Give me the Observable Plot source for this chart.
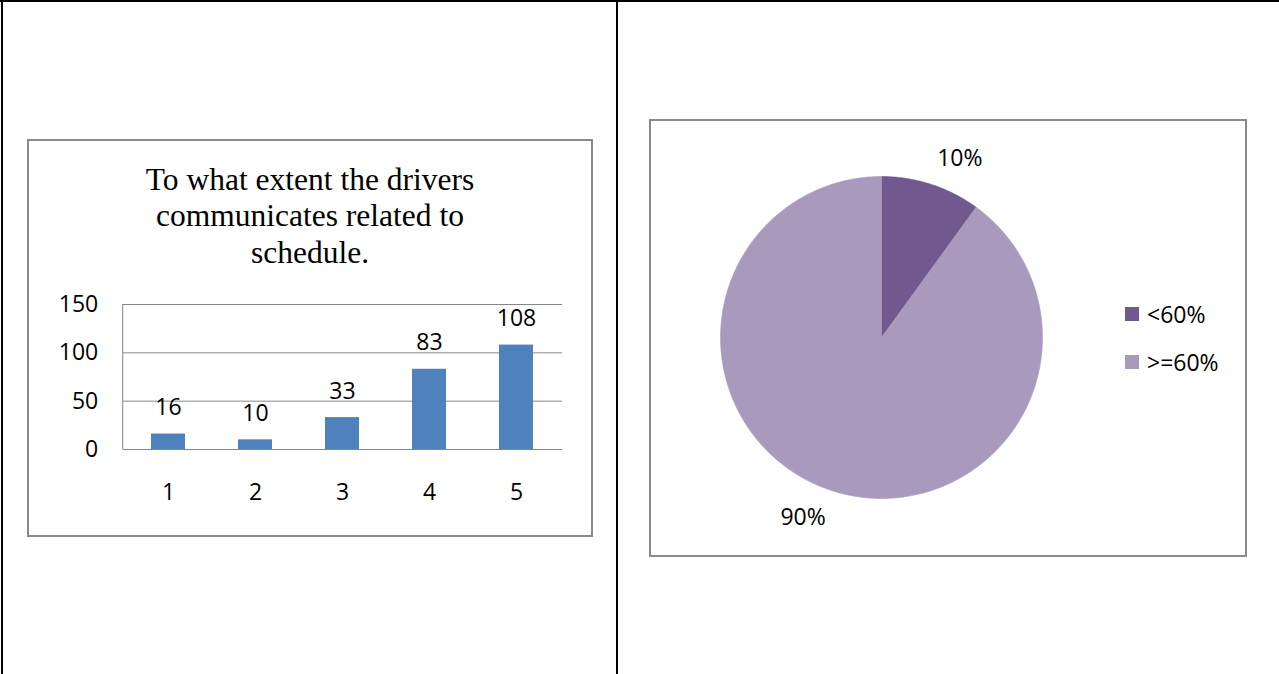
<!DOCTYPE html>
<html>
<head>
<meta charset="utf-8">
<script src="https://cdn.jsdelivr.net/npm/d3@7"></script>
<script src="https://cdn.jsdelivr.net/npm/@observablehq/plot@0.6"></script>
<style>
  html, body { margin: 0; padding: 0; background: #fff; }
  body { width: 1279px; height: 674px; position: relative; overflow: hidden; }
  .abs { position: absolute; box-sizing: border-box; }
  .line { background: #000; }
  .box { border: 2px solid #8a8a8a; background: #fff; }
  #title { font-family: "Liberation Serif", "Times New Roman", serif; font-size: 31.5px; line-height: 36.4px; text-align: center; color: #000; }
  #legend { font-family: "Open Sans", sans-serif; font-size: 23px; color: #000; }
  #legend .item { display: flex; align-items: center; height: 24px; line-height: 24px; margin-bottom: 24px; }
  #legend .sw { width: 14px; height: 14px; margin-right: 8px; flex: none; }
</style>
</head>
<body>
<div class="abs line" style="left:0;top:0;width:1279px;height:2px"></div>
<div class="abs line" style="left:1px;top:0;width:2px;height:674px"></div>
<div class="abs line" style="left:616px;top:0;width:2px;height:674px"></div>
<div class="abs box" style="left:27px;top:139px;width:566px;height:398px"></div>
<div class="abs box" style="left:649px;top:119px;width:598px;height:438px"></div>
<div id="title" class="abs" style="left:29px;top:161.7px;width:562px"></div>
<div id="bar" class="abs" style="left:28px;top:280px"></div>
<div id="pie" class="abs" style="left:651px;top:121px"></div>
<div id="legend" class="abs" style="left:1125px;top:302px"></div>
<script>
// ---- data ----
const titleLines = ["To what extent the drivers", "communicates related to", "schedule."];
const barCategories = ["1", "2", "3", "4", "5"];
const barValues = [16, 10, 33, 83, 108];
const yTicks = [0, 50, 100, 150];

const pieCategories = ["<60%", ">=60%"];
const pieValues = [10, 90];
const pieColors = ["#71598E", "#A99ABD"];

// ---- title ----
document.getElementById("title").innerHTML = titleLines.join("<br>");

// ---- bar chart ----
const barData = barCategories.map((c, i) => ({category: c, value: barValues[i]}));
const gridColor = "#868686";

const yAxisLine = (index, scales, values, dims) => {
  const x = dims.marginLeft;
  return d3.create("svg:line")
    .attr("x1", x).attr("x2", x)
    .attr("y1", scales.y(150)).attr("y2", scales.y(0))
    .attr("stroke", gridColor)
    .node();
};

const bar = Plot.plot({
  width: 563,
  height: 255,
  marginLeft: 94.7,
  marginRight: 29,
  marginTop: 24,
  marginBottom: 86,
  style: {fontFamily: "Open Sans, sans-serif", fontSize: "23px", color: "#000", background: "transparent"},
  x: {domain: barCategories, paddingInner: 0.605, paddingOuter: 0.3025},
  y: {domain: [0, 150]},
  marks: [
    Plot.ruleY(yTicks, {stroke: gridColor, strokeWidth: 1}),
    yAxisLine,
    Plot.barY(barData, {x: "category", y: "value", fill: "#4F81BD"}),
    Plot.text(barData, {x: "category", y: "value", text: d => String(d.value), dy: -19, lineAnchor: "bottom", fill: "#000"}),
    Plot.axisY({ticks: yTicks, tickSize: 0, tickPadding: 25, label: null}),
    Plot.axisX({tickSize: 0, tickPadding: 34, label: null})
  ]
});
document.getElementById("bar").appendChild(bar);

// ---- pie chart ----
const arcs = d3.pie().sort(null)(pieValues);
const slicePts = [];
arcs.forEach((a, i) => {
  const cat = pieCategories[i];
  const n = Math.max(2, Math.ceil((a.endAngle - a.startAngle) / (2 * Math.PI) * 360));
  slicePts.push({cat, x: 0, y: 0});
  for (let t = 0; t <= n; t++) {
    const ang = a.startAngle + (a.endAngle - a.startAngle) * t / n;
    slicePts.push({cat, x: Math.sin(ang), y: Math.cos(ang)});
  }
  slicePts.push({cat, x: 0, y: 0});
});
const total = d3.sum(pieValues);
const labelK = 1.12;
const pieLabels = arcs.map((a, i) => {
  const mid = (a.startAngle + a.endAngle) / 2;
  return {cat: pieCategories[i], x: labelK * Math.sin(mid), y: labelK * Math.cos(mid), text: d3.format(".0%")(pieValues[i] / total)};
});

const pie = Plot.plot({
  width: 594,
  height: 434,
  marginLeft: 69,
  marginRight: 203,
  marginTop: 55,
  marginBottom: 57,
  style: {fontFamily: "Open Sans, sans-serif", fontSize: "23px", color: "#000", background: "transparent"},
  x: {domain: [-1, 1], axis: null},
  y: {domain: [-1, 1], axis: null},
  color: {domain: pieCategories, range: pieColors},
  marks: [
    Plot.line(slicePts, {x: "x", y: "y", z: "cat", fill: "cat", stroke: "cat", strokeWidth: 0.6, curve: "linear"}),
    Plot.text(pieLabels.filter(d => d.x >= 0), {x: "x", y: "y", text: "text", textAnchor: "start", lineAnchor: "bottom", fill: "#000"}),
    Plot.text(pieLabels.filter(d => d.x < 0), {x: "x", y: "y", text: "text", textAnchor: "end", lineAnchor: "top", fill: "#000"})
  ]
});
document.getElementById("pie").appendChild(pie);

// ---- legend ----
const legend = document.getElementById("legend");
pieCategories.forEach((c, i) => {
  const item = document.createElement("div");
  item.className = "item";
  const sw = document.createElement("span");
  sw.className = "sw";
  sw.style.background = pieColors[i];
  const lab = document.createElement("span");
  lab.textContent = c;
  item.appendChild(sw);
  item.appendChild(lab);
  legend.appendChild(item);
});
</script>
</body>
</html>
